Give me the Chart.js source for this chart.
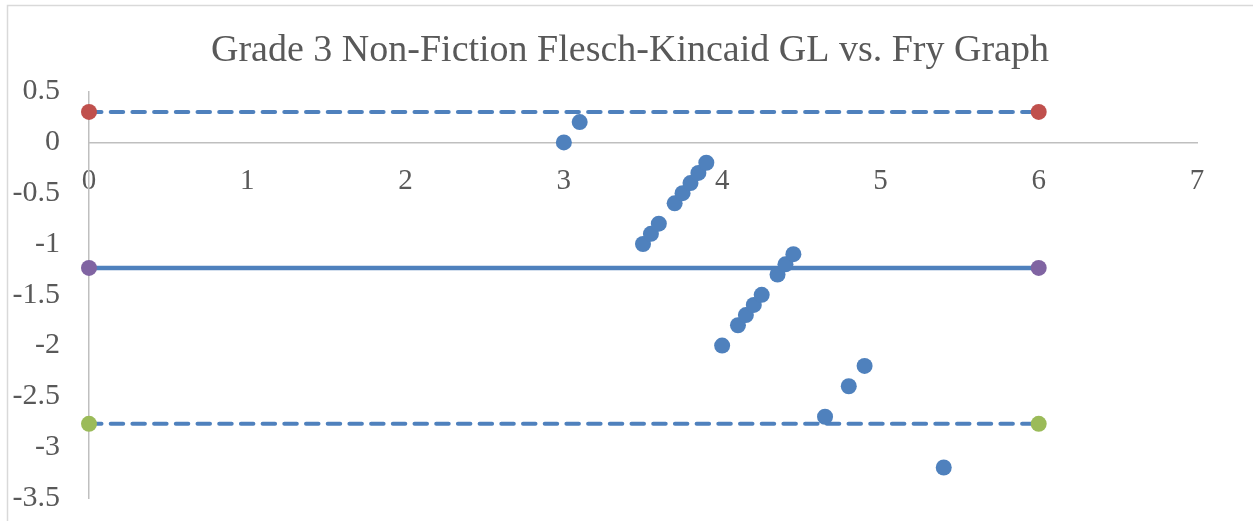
<!DOCTYPE html>
<html>
<head>
<meta charset="utf-8">
<script src="https://cdn.jsdelivr.net/npm/chart.js@4.4.1/dist/chart.umd.min.js"></script>
<style>
  html, body { margin: 0; padding: 0; background: #fff; }
  #wrap { width: 1253px; height: 521px; position: relative; }
</style>
</head>
<body>
<div id="wrap"><canvas id="chart"></canvas></div>
<script>
// Fry graph grade level (x) vs. difference to Flesch-Kincaid GL (y)
var fryX = [3.0, 3.1, 3.5, 3.55, 3.6, 3.7, 3.75, 3.8, 3.85, 3.9,
            4.0, 4.1, 4.15, 4.2, 4.25, 4.35, 4.4, 4.45, 4.65, 4.8, 4.9, 5.4];
var diffY = [0, 0.2, -1.0, -0.9, -0.8, -0.6, -0.5, -0.4, -0.3, -0.2,
             -2.0, -1.8, -1.7, -1.6, -1.5, -1.3, -1.2, -1.1, -2.7, -2.4, -2.2, -3.2];

// reference lines (start and end x)
var lineX = [0, 6];
var upperLimit = 0.30;
var meanDiff = -1.235;
var lowerLimit = -2.77;

var xTicks = ['0', '1', '2', '3', '4', '5', '6', '7'];
var yTicks = ['0.5', '0', '-0.5', '-1', '-1.5', '-2', '-2.5', '-3', '-3.5'];

var titleText = 'Grade 3 Non-Fiction Flesch-Kincaid GL vs. Fry Graph';

var blue = '#4F81BD';
var textGray = '#595959';
var axisGray = '#BFBFBF';
var serif = "'Liberation Serif', 'Times New Roman', serif";

function linePoints(y){
    return lineX.map(function(x){ return {x: x, y: y}; });
}

var points = fryX.map(function(x, i){ return {x: x, y: diffY[i]}; });

var frame = {
    id: 'frame',
    beforeDraw: function(chart){
        var ctx = chart.ctx;
        ctx.save();
        ctx.fillStyle = '#fff';
        ctx.fillRect(0, 0, chart.width, chart.height);
        ctx.strokeStyle = '#D9D9D9';
        ctx.lineWidth = 1.5;
        ctx.strokeRect(7.5, 5.5, chart.width + 10, chart.height + 10);
        ctx.restore();
    }
};

// keep the axes from reserving extra room for their labels
function noPadding(scale){
    scale.paddingTop = 0;
    scale.paddingBottom = 0;
    scale.paddingLeft = 0;
    scale.paddingRight = 0;
}

const config = {
    type: 'scatter',
    data: {
        datasets: [{
            label: 'Difference',
            data: points,
            backgroundColor: blue,
            borderColor: blue,
            pointRadius: 8,
            pointHoverRadius: 8,
            borderWidth: 0,
            showLine: false,
            clip: false
        },
        {
            label: 'Upper',
            data: linePoints(upperLimit),
            showLine: true,
            borderColor: blue,
            borderWidth: 4,
            borderDash: [12.5, 9.2],
            borderCapStyle: 'round',
            pointRadius: 8,
            pointBorderWidth: 0,
            pointBackgroundColor: '#C0504D',
            clip: false
        },
        {
            label: 'Mean',
            data: linePoints(meanDiff),
            showLine: true,
            borderColor: blue,
            borderWidth: 4.5,
            pointRadius: 8,
            pointBorderWidth: 0,
            pointBackgroundColor: '#8064A2',
            clip: false
        },
        {
            label: 'Lower',
            data: linePoints(lowerLimit),
            showLine: true,
            borderColor: blue,
            borderWidth: 4,
            borderDash: [12.5, 9.2],
            borderCapStyle: 'round',
            pointRadius: 8,
            pointBorderWidth: 0,
            pointBackgroundColor: '#9BBB59',
            clip: false
        }]
    },
    options: {
        responsive: true,
        maintainAspectRatio: false,
        animation: false,
        layout: {
            padding: {left: 7, right: 0, top: 0, bottom: 23}
        },
        plugins: {
            legend: {display: false},
            tooltip: {enabled: false},
            title: {
                display: true,
                text: titleText,
                color: textGray,
                font: {family: serif, size: 38, weight: 'normal'},
                padding: {top: 28, bottom: 18}
            }
        },
        scales: {
            x: {
                type: 'linear',
                position: {y: 0},
                min: 0,
                max: 7,
                grid: {display: false, drawTicks: false},
                border: {display: true, color: axisGray, width: 1.5},
                afterFit: function(scale){ scale.height = 0; noPadding(scale); },
                ticks: {
                    stepSize: 1,
                    color: textGray,
                    font: {family: serif, size: 29},
                    padding: 22,
                    maxRotation: 0,
                    callback: function(v, i){ return xTicks[i]; }
                }
            },
            y: {
                type: 'linear',
                min: -3.5,
                max: 0.5,
                grid: {display: false, drawTicks: false},
                border: {display: true, color: axisGray, width: 1.5},
                afterFit: function(scale){ scale.width = 82; noPadding(scale); },
                ticks: {
                    stepSize: 0.5,
                    color: textGray,
                    font: {family: serif, size: 30},
                    padding: 29,
                    callback: function(v, i, ticks){ return yTicks[ticks.length - 1 - i]; }
                }
            },
            yRight: {
                type: 'linear',
                position: 'right',
                min: -3.5,
                max: 0.5,
                grid: {display: false, drawTicks: false},
                border: {display: false},
                ticks: {display: false},
                afterFit: function(scale){ scale.width = 56; noPadding(scale); }
            }
        }
    },
    plugins: [frame]
};

var reportChart = new Chart(document.getElementById('chart'), config);
</script>
</body>
</html>
